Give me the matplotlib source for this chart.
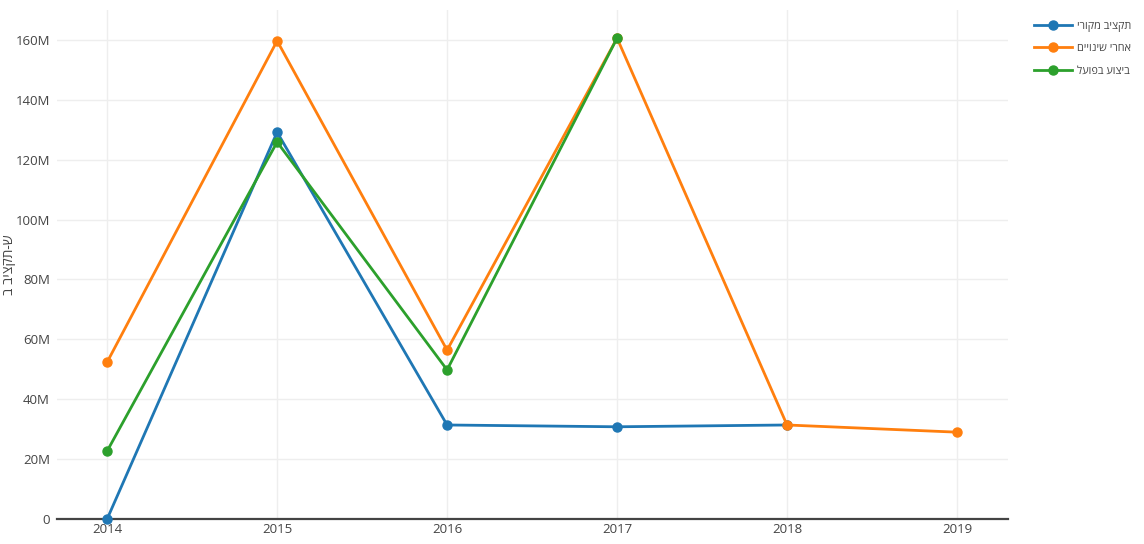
"""Budget by year: original, revised and actual spending."""

import matplotlib

matplotlib.use("Agg")
import matplotlib.pyplot as plt
from matplotlib.ticker import FuncFormatter

plt.rcParams["font.family"] = ["Open Sans", "DejaVu Sans"]

# Hebrew strings are given in visual (left-to-right) order, since matplotlib has no bidi.
original_label = "ירוקמ ביצקת"   # תקציב מקורי
revised_label = "םייוניש ירחא"   # אחרי שינויים
actual_label = "לעופב עוציב"     # ביצוע בפועל
y_label = "ב ביצקת-ש"

original_years = [2014, 2015, 2016, 2017, 2018]
original_values = [0.0e6, 129.2e6, 31.4e6, 30.8e6, 31.4e6]

revised_years = [2014, 2015, 2016, 2017, 2018, 2019]
revised_values = [52.4e6, 159.7e6, 56.4e6, 160.6e6, 31.4e6, 29.0e6]

actual_years = [2014, 2015, 2016, 2017]
actual_values = [22.7e6, 125.9e6, 49.8e6, 160.6e6]

x_ticks = [2014, 2015, 2016, 2017, 2018, 2019]
y_ticks = [0, 20e6, 40e6, 60e6, 80e6, 100e6, 120e6, 140e6, 160e6]

series = [
    (original_years, original_values, "#1f77b4", original_label),
    (revised_years, revised_values, "#ff7f0e", revised_label),
    (actual_years, actual_values, "#2ca02c", actual_label),
]

fig = plt.figure(figsize=(11.44, 5.44), dpi=100)
ax = fig.add_axes([57 / 1144, 1 - 519 / 544, (1008 - 57) / 1144, (519 - 10) / 544])

for years, values, colour, label in series:
    ax.plot(years, values, color=colour, linewidth=2, marker="o", markersize=6.5,
            label=label, clip_on=False, zorder=3)

ax.set_xlim(2013.705, 2019.3)
ax.set_ylim(0, 170e6)
ax.set_xticks(x_ticks)
ax.set_yticks(y_ticks)
ax.yaxis.set_major_formatter(
    FuncFormatter(lambda v, _: "0" if v == 0 else f"{v / 1e6:.0f}M")
)
ax.grid(True, color="#eeeeee", linewidth=1)
ax.set_axisbelow(True)
ax.tick_params(axis="both", length=0, labelsize=9.5, colors="#444444")
ax.tick_params(axis="x", pad=3)
ax.tick_params(axis="y", pad=5)
for side in ("top", "right", "left"):
    ax.spines[side].set_visible(False)
ax.spines["bottom"].set_color("#444444")
ax.spines["bottom"].set_linewidth(1.6)
ax.spines["bottom"].set_zorder(2)

ax.set_ylabel(y_label, fontsize=10, color="#444444", va="center")
ax.yaxis.set_label_coords((9 - 57) / 951, (519 - 265) / 509)

fig.legend(
    loc="upper left",
    bbox_to_anchor=(1024 / 1144, 1 - 11 / 544),
    frameon=False,
    fontsize=7.8,
    labelcolor="#444444",
    handlelength=3.5,
    handletextpad=0.5,
    labelspacing=1.05,
)

fig.savefig("out.png", dpi=100, facecolor="white")
